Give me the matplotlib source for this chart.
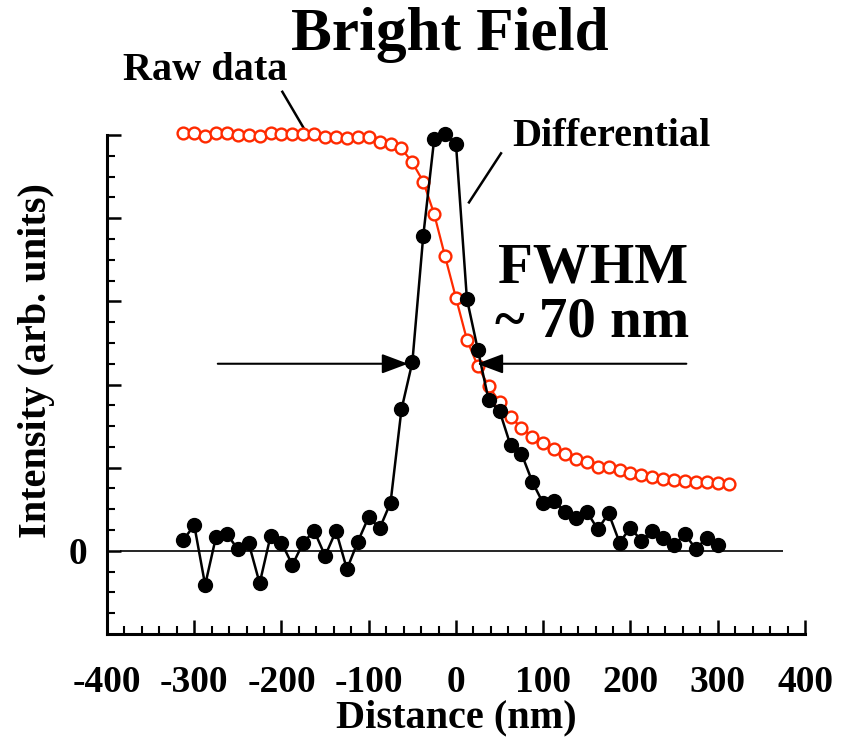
import matplotlib
matplotlib.use('Agg')
import matplotlib.pyplot as plt
from matplotlib.ticker import MultipleLocator, FixedLocator, FixedFormatter

plt.rcParams['font.family'] = ['Liberation Serif', 'DejaVu Serif']
plt.rcParams['font.weight'] = 'bold'
plt.rcParams['axes.unicode_minus'] = False

# distance (nm), 12.5 nm step
distance = [-312.5, -300, -287.5, -275, -262.5, -250, -237.5, -225, -212.5, -200,
            -187.5, -175, -162.5, -150, -137.5, -125, -112.5, -100, -87.5, -75,
            -62.5, -50, -37.5, -25, -12.5, 0, 12.5, 25, 37.5, 50,
            62.5, 75, 87.5, 100, 112.5, 125, 137.5, 150, 162.5, 175,
            187.5, 200, 212.5, 225, 237.5, 250, 262.5, 275, 287.5, 300,
            312.5]

raw_data = [5.03, 5.03, 4.99, 5.03, 5.02, 5.00, 5.00, 4.99, 5.03, 5.01,
            5.01, 5.01, 5.01, 4.98, 4.98, 4.96, 4.98, 4.98, 4.92, 4.89,
            4.84, 4.67, 4.44, 4.05, 3.54, 3.04, 2.54, 2.22, 1.98, 1.79,
            1.61, 1.48, 1.37, 1.30, 1.23, 1.17, 1.11, 1.07, 1.01, 1.01,
            0.97, 0.94, 0.91, 0.89, 0.87, 0.85, 0.84, 0.83, 0.83, 0.82,
            0.81]

differential = [0.13, 0.31, -0.41, 0.17, 0.20, 0.02, 0.09, -0.39, 0.18, 0.10,
                -0.17, 0.10, 0.24, -0.06, 0.24, -0.22, 0.11, 0.41, 0.27, 0.58,
                1.70, 2.27, 3.79, 4.95, 5.01, 4.89, 3.03, 2.42, 1.81, 1.68,
                1.27, 1.17, 0.83, 0.57, 0.60, 0.47, 0.40, 0.47, 0.26, 0.45,
                0.10, 0.28, 0.12, 0.24, 0.16, 0.07, 0.20, 0.02, 0.16, 0.07]

RED = '#ff2a00'

fig = plt.figure(figsize=(8.41, 7.44), dpi=100)
ax = fig.add_axes([0.1272, 0.1478, 0.830, 0.6707])

ax.hlines(0, -385, 375, color='black', lw=1.2)

ax.plot(distance, raw_data, color=RED, lw=1.6, marker='o', ms=8.5,
        mfc='white', mec=RED, mew=1.7, zorder=3, clip_on=False)
ax.plot(distance[:len(differential)], differential, color='black', lw=1.8,
        marker='o', ms=10, mfc='black', mec='black', zorder=4, clip_on=False)

ax.set_xlim(-400, 400)
ax.set_ylim(-1, 5)
ax.xaxis.set_major_locator(MultipleLocator(100))
ax.xaxis.set_minor_locator(MultipleLocator(20))
ax.yaxis.set_major_locator(FixedLocator([-1, 0, 1, 2, 3, 4, 5]))
ax.yaxis.set_major_formatter(FixedFormatter(['', '0', '', '', '', '', '']))
ax.yaxis.set_minor_locator(MultipleLocator(0.25))

for s in ['top', 'right']:
    ax.spines[s].set_visible(False)
for s in ['left', 'bottom']:
    ax.spines[s].set_linewidth(2.2)

ax.tick_params(which='major', direction='in', length=10, width=1.8, labelsize=27)
ax.tick_params(which='minor', direction='in', length=5.5, width=1.5)
ax.tick_params(axis='x', which='major', pad=22)
ax.tick_params(axis='y', which='major', pad=14)

ax.set_xlabel('Distance (nm)', fontsize=29, fontweight='bold')
ax.set_ylabel('Intensity (arb. units)', fontsize=29, fontweight='bold')
ax.xaxis.set_label_coords(0.5, -0.132)
ax.yaxis.set_label_coords(-0.075, 0.549)

fig.text(0.535, 0.953, 'Bright Field', ha='center', va='center',
         fontsize=44, fontweight='bold')

# labels with pointer lines
ax.text(-288, 5.78, 'Raw data', ha='center', va='center', fontsize=29,
        fontweight='bold', clip_on=False)
ax.plot([-199, -171], [5.52, 5.02], color='black', lw=1.8, clip_on=False)
ax.text(177.6, 4.98, 'Differential', ha='center', va='center', fontsize=29,
        fontweight='bold', clip_on=False)
ax.plot([51.6, 14.9], [4.78, 4.19], color='black', lw=1.8, clip_on=False)

ax.text(157, 3.40, 'FWHM', ha='center', va='center', fontsize=41, fontweight='bold')
ax.text(156, 2.75, '~ 70 nm', ha='center', va='center', fontsize=41, fontweight='bold')

arrow = dict(arrowstyle='-|>,head_length=0.8,head_width=0.3', color='black',
             lw=1.5, mutation_scale=20, shrinkA=0, shrinkB=0)
ax.annotate('', xy=(-55, 2.25), xytext=(-273, 2.25), arrowprops=arrow)
ax.annotate('', xy=(24, 2.25), xytext=(264, 2.25), arrowprops=arrow)

fig.savefig('out.png', dpi=100)
